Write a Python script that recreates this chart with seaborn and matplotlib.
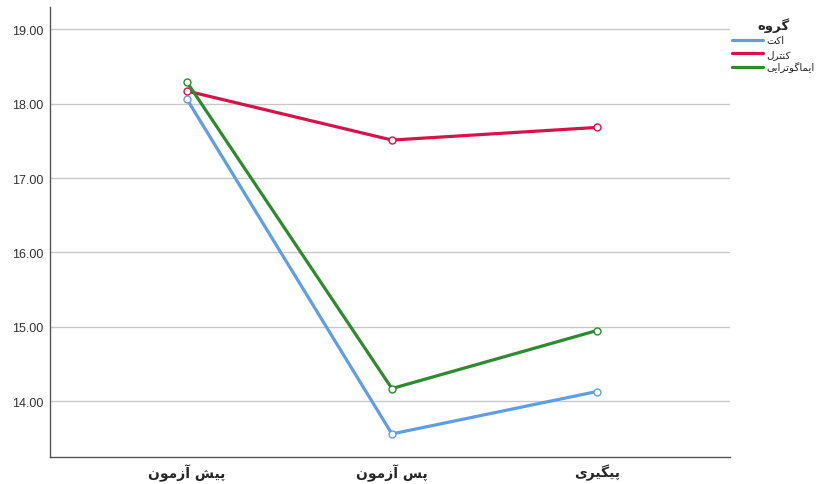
import unicodedata
import pandas as pd
import seaborn as sns
import matplotlib.pyplot as plt

# simple Persian shaping: pick presentation forms and reverse for LTR rendering
RIGHT_ONLY = set("اآدذرزژو")

def is_ar(c):
    return '\u0600' <= c <= '\u06ff'

def form_of(c, f):
    try:
        return unicodedata.lookup(unicodedata.name(c) + " " + f + " FORM")
    except (KeyError, ValueError):
        return c

def fa(text):
    out = []
    for i, c in enumerate(text):
        if not is_ar(c):
            out.append(c)
            continue
        prev = text[i - 1] if i > 0 else ""
        nxt = text[i + 1] if i + 1 < len(text) else ""
        join_prev = bool(prev) and is_ar(prev) and prev not in RIGHT_ONLY
        join_next = bool(nxt) and is_ar(nxt) and c not in RIGHT_ONLY
        if join_prev and join_next:
            f = "MEDIAL"
        elif join_prev:
            f = "FINAL"
        elif join_next:
            f = "INITIAL"
        else:
            f = "ISOLATED"
        out.append(form_of(c, f))
    return "".join(out)[::-1]

times = ["پیش آزمون", "پس آزمون", "پیگیری"]
groups = ["اکت", "کنترل", "ایماگوترایی"]
act = [18.06, 13.56, 14.13]
control = [18.17, 17.51, 17.68]
imago = [18.29, 14.17, 14.95]
colors = ["#5f9de5", "#d7124b", "#2e8a2e"]

rows = []
for g, vals in zip(groups, [act, control, imago]):
    for t, v in zip(times, vals):
        rows.append({"time": fa(t), "group": fa(g), "score": v})
df = pd.DataFrame(rows)

sns.set_style("white")
plt.rcParams['font.family'] = ['Liberation Sans', 'DejaVu Sans']

fig = plt.figure(figsize=(8.26, 4.85), dpi=100)
ax = fig.add_axes([0.0605, 0.0557, 0.8235, 0.928])

ax.set_yticks([14, 15, 16, 17, 18, 19])
ax.yaxis.grid(True, color="#c8c8c8", linewidth=1.0)
ax.set_axisbelow(True)

sns.lineplot(data=df, x="time", y="score", hue="group", palette=colors,
             linewidth=2.3, marker="o", sort=False, ax=ax)

# small open circle markers like the original
for line in ax.lines:
    line.set_markersize(5)
    line.set_markerfacecolor("white")
    line.set_markeredgecolor(line.get_color())
    line.set_markeredgewidth(1.0)

ax.set_ylim(13.25, 19.3)
ax.set_xlim(-0.668, 2.65)
ax.set_yticklabels(["%.2f" % v for v in ax.get_yticks()], fontsize=9, color="#333333")
ax.set_xticks(range(len(times)))
ax.set_xticklabels([fa(t) for t in times], fontsize=10, fontweight="bold",
                   family=['DejaVu Sans'])
ax.tick_params(axis="both", length=0, pad=5)
ax.set_xlabel("")
ax.set_ylabel("")
for s in ["top", "right"]:
    ax.spines[s].set_visible(False)
for s in ["left", "bottom"]:
    ax.spines[s].set_color("#555555")
    ax.spines[s].set_linewidth(1.0)

handles, labels = ax.get_legend_handles_labels()
leg = ax.legend(handles, labels, title=fa("گروه"), loc="upper left",
                bbox_to_anchor=(0.99, 0.995), frameon=False, handlelength=3.0,
                handletextpad=0.35, labelspacing=0.3, borderpad=0.3,
                prop={'family': 'DejaVu Sans', 'size': 7.5})
leg.get_title().set_fontweight("bold")
leg.get_title().set_family("DejaVu Sans")
leg.get_title().set_fontsize(9.5)
for line in leg.get_lines():
    line.set_marker("")
    line.set_linewidth(2.3)

fig.savefig("out.png", dpi=100)
